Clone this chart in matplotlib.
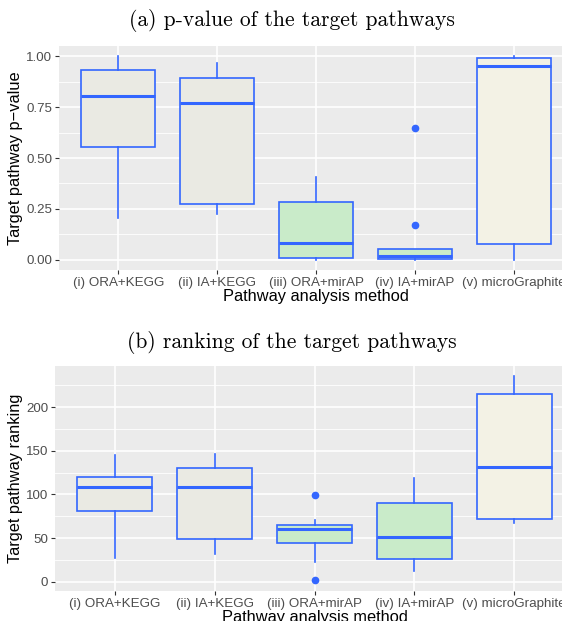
import matplotlib
matplotlib.use("Agg")
import matplotlib.pyplot as plt

methods = ["(i) ORA+KEGG", "(ii) IA+KEGG", "(iii) ORA+mirAP", "(iv) IA+mirAP", "(v) microGraphite"]
fills = ["#EAEAE3", "#EAEAE3", "#C9EBC9", "#C9EBC9", "#F3F2E5"]

# panel (a): p-value box statistics
pv_whislo = [0.207, 0.225, 0.0, 0.0, 0.0]
pv_q1 = [0.555, 0.272, 0.008, 0.003, 0.080]
pv_med = [0.806, 0.768, 0.082, 0.018, 0.954]
pv_q3 = [0.930, 0.891, 0.285, 0.055, 0.990]
pv_whishi = [1.0, 0.966, 0.409, 0.055, 1.0]
pv_fliers = [[], [], [], [0.648, 0.172], []]

# panel (b): ranking box statistics
rk_whislo = [27.0, 31.9, 22.3, 12.7, 67.1]
rk_q1 = [80.8, 48.7, 44.1, 25.8, 71.7]
rk_med = [109.0, 109.0, 60.6, 51.0, 131.3]
rk_q3 = [119.8, 129.7, 64.8, 90.7, 214.6]
rk_whishi = [144.6, 146.2, 71.2, 118.7, 235.2]
rk_fliers = [[], [], [99.9, 1.7], [], []]

BLUE = "#3366FF"
SANS = "Liberation Sans"


def make_stats(lo, q1, med, q3, hi, fl):
    return [dict(whislo=lo[i], q1=q1[i], med=med[i], q3=q3[i], whishi=hi[i],
                 fliers=fl[i]) for i in range(len(lo))]


def draw_panel(ax, stats, ylabel, ylim, majors, minors):
    ax.set_facecolor("#EBEBEB")
    for m in minors:
        ax.axhline(m, color="white", lw=0.6, zorder=0)
    for m in majors:
        ax.axhline(m, color="white", lw=1.2, zorder=0)
    for x in range(1, 6):
        ax.axvline(x, color="white", lw=1.2, zorder=0)

    bp = ax.bxp(stats, positions=range(1, 6), widths=0.75, patch_artist=True,
                showcaps=False,
                boxprops=dict(edgecolor=BLUE, linewidth=1.2),
                whiskerprops=dict(color=BLUE, linewidth=1.2),
                medianprops=dict(color=BLUE, linewidth=2.2),
                flierprops=dict(marker="o", markerfacecolor=BLUE,
                                markeredgecolor=BLUE, markersize=4.5))
    for patch, c in zip(bp["boxes"], fills):
        patch.set_facecolor(c)

    ax.set_xlim(0.4, 5.6)
    ax.set_ylim(*ylim)
    ax.set_yticks(majors)
    ax.set_xticks(range(1, 6))
    ax.set_xticklabels(methods)
    for s in ax.spines.values():
        s.set_visible(False)
    ax.tick_params(axis="both", colors="#333333", labelcolor="#4D4D4D",
                   labelsize=9.6, length=3, width=0.8, pad=2)
    for lab in ax.get_xticklabels() + ax.get_yticklabels():
        lab.set_fontfamily(SANS)
    ax.set_xlabel("Pathway analysis method", fontsize=11.8, family=SANS, labelpad=0)
    ax.set_ylabel(ylabel, fontsize=11.8, family=SANS, labelpad=2)


fig = plt.figure(figsize=(5.62, 6.21), dpi=100)

ax1 = fig.add_axes([0.105, 0.5652, 0.9146, 0.3607])
draw_panel(ax1, make_stats(pv_whislo, pv_q1, pv_med, pv_q3, pv_whishi, pv_fliers),
           "Target pathway p\u2212value", (-0.05, 1.05),
           [0.0, 0.25, 0.5, 0.75, 1.0], [0.125, 0.375, 0.625, 0.875])
ax1.set_yticklabels(["0.00", "0.25", "0.50", "0.75", "1.00"], family=SANS)

ax2 = fig.add_axes([0.0979, 0.0488, 0.9238, 0.3618])
draw_panel(ax2, make_stats(rk_whislo, rk_q1, rk_med, rk_q3, rk_whishi, rk_fliers),
           "Target pathway ranking", (-10.2, 247),
           [0, 50, 100, 150, 200], [25, 75, 125, 175, 225])

fig.text(0.519, 0.967, "(a) p-value of the target pathways", ha="center", va="center",
         fontsize=15.5, family="cmr10")
fig.text(0.519, 0.448, "(b) ranking of the target pathways", ha="center", va="center",
         fontsize=15.5, family="cmr10")

fig.savefig("out.png", dpi=100)
